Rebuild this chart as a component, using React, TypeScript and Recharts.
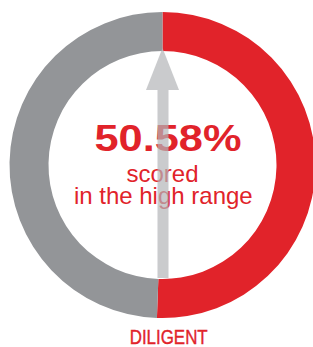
import { PieChart, Pie, Cell } from "recharts";

const segments = ["High range", "Other"];
const shares = [50.58, 49.42];
const colors = ["#e1232a", "#939598"];
const headline = "50.58%";
const captionLines = ["scored", "in the high range"];
const traitName = "DILIGENT";

const data = segments.map((name, i) => ({ name, value: shares[i] }));

const W = 313;
const H = 347;
const CX = 162.5;
const CY = 165;

export default function App() {
  return (
    <div style={{ position: "absolute", left: 0, top: 0, width: W, height: H, background: "#fff" }}>
      <PieChart width={W} height={H} margin={{ top: 0, right: 0, bottom: 0, left: 0 }}>
        <Pie
          data={data}
          dataKey="value"
          cx={CX}
          cy={CY}
          innerRadius={114}
          outerRadius={153}
          startAngle={90}
          endAngle={-270}
          stroke="none"
          isAnimationActive={false}
        >
          {data.map((d, i) => (
            <Cell key={d.name} fill={colors[i]} />
          ))}
        </Pie>
      </PieChart>
      <svg
        width={W}
        height={H}
        style={{ position: "absolute", left: 0, top: 0, pointerEvents: "none" }}
        fontFamily="'Liberation Sans', Arial, sans-serif"
      >
        <text
          x={168}
          y={151}
          textAnchor="middle"
          fontSize={37}
          fontWeight="bold"
          fill={colors[0]}
          textLength={147}
          lengthAdjust="spacingAndGlyphs"
        >
          {headline}
        </text>
        <text x={162.5} y={182.2} textAnchor="middle" fontSize={24} fill={colors[0]}>
          {captionLines[0]}
        </text>
        <text x={163.3} y={203.5} textAnchor="middle" fontSize={24} fill={colors[0]}>
          {captionLines[1]}
        </text>
        {/* arrow drawn over the text, semi-transparent */}
        <g fill="#b4b6b9" opacity={0.7}>
          <rect x={157.5} y={89} width={11} height={189} />
          <polygon points="162.5,48 146,90 179,90" />
        </g>
        <text
          x={168.7}
          y={343.5}
          textAnchor="middle"
          fontSize={21}
          fill={colors[0]}
          stroke={colors[0]}
          strokeWidth={0.4}
          textLength={78}
          lengthAdjust="spacingAndGlyphs"
        >
          {traitName}
        </text>
      </svg>
    </div>
  );
}
